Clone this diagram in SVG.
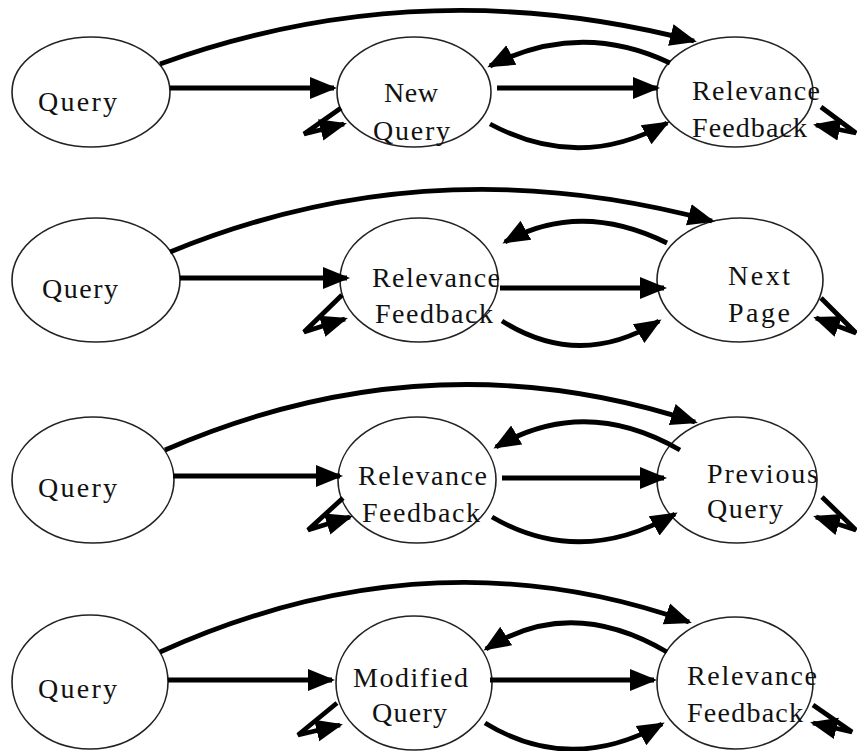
<svg xmlns="http://www.w3.org/2000/svg" width="857" height="751" viewBox="0 0 857 751">
<defs>
<style>
.n{fill:#fff;stroke:#222;stroke-width:1.6}
.t{font-family:"Liberation Serif","DejaVu Serif","Times New Roman",serif;font-size:28px;fill:#111}
.c{fill:none;stroke:#000;stroke-width:4.8;stroke-linejoin:miter;marker-end:url(#ah)}
</style>
<marker id="ah" markerUnits="userSpaceOnUse" markerWidth="28" markerHeight="24" refX="24" refY="11" orient="auto" viewBox="0 0 28 22">
<path d="M0,0 L27,11 L0,22 Z" fill="#000"/>
</marker>
</defs>
<rect width="857" height="751" fill="#fff"/>

<g id="r1-query"><ellipse class="n" cx="91" cy="92" rx="79" ry="55"/><text class="t" x="38" y="111" textLength="79" lengthAdjust="spacing">Query</text></g>
<g id="r1-newquery"><ellipse class="n" cx="414" cy="92" rx="77" ry="55"/><text class="t" x="384" y="102" textLength="54" lengthAdjust="spacing">New</text><text class="t" x="373" y="140" textLength="77" lengthAdjust="spacing">Query</text></g>
<g id="r1-relevance"><ellipse class="n" cx="735" cy="92" rx="78" ry="55"/><text class="t" x="692" y="100" textLength="128" lengthAdjust="spacing">Relevance</text><text class="t" x="692" y="137" textLength="115" lengthAdjust="spacing">Feedback</text></g>

<g id="r2-query"><ellipse class="n" cx="96" cy="280" rx="84" ry="62"/><text class="t" x="42" y="298" textLength="76" lengthAdjust="spacing">Query</text></g>
<g id="r2-relevance"><ellipse class="n" cx="419" cy="280" rx="79" ry="62"/><text class="t" x="372" y="287" textLength="128" lengthAdjust="spacing">Relevance</text><text class="t" x="375" y="323" textLength="118" lengthAdjust="spacing">Feedback</text></g>
<g id="r2-nextpage"><ellipse class="n" cx="740" cy="280" rx="83" ry="62"/><text class="t" x="728" y="285" textLength="62" lengthAdjust="spacing">Next</text><text class="t" x="728" y="322" textLength="62" lengthAdjust="spacing">Page</text></g>

<g id="r3-query"><ellipse class="n" cx="93" cy="480" rx="81" ry="63"/><text class="t" x="38" y="497" textLength="79" lengthAdjust="spacing">Query</text></g>
<g id="r3-relevance"><ellipse class="n" cx="417" cy="480" rx="79" ry="63"/><text class="t" x="358" y="485" textLength="129" lengthAdjust="spacing">Relevance</text><text class="t" x="362" y="522" textLength="118" lengthAdjust="spacing">Feedback</text></g>
<g id="r3-previous"><ellipse class="n" cx="737" cy="480" rx="80" ry="63"/><text class="t" x="707" y="483" textLength="111" lengthAdjust="spacing">Previous</text><text class="t" x="707" y="518" textLength="76" lengthAdjust="spacing">Query</text></g>

<g id="r4-query"><ellipse class="n" cx="90" cy="682" rx="78" ry="67"/><text class="t" x="38" y="698" textLength="79" lengthAdjust="spacing">Query</text></g>
<g id="r4-modified"><ellipse class="n" cx="414" cy="683" rx="78" ry="67"/><text class="t" x="353" y="687" textLength="115" lengthAdjust="spacing">Modified</text><text class="t" x="372" y="722" textLength="75" lengthAdjust="spacing">Query</text></g>
<g id="r4-relevance"><ellipse class="n" cx="735" cy="683" rx="78" ry="66"/><text class="t" x="687" y="685" textLength="130" lengthAdjust="spacing">Relevance</text><text class="t" x="687" y="722" textLength="116" lengthAdjust="spacing">Feedback</text></g>

<g id="connectors">
<path class="c" d="M160,64 Q420,-30 694,41"/>
<path class="c" d="M170,88 L334,88"/>
<path class="c" d="M670,63 Q580,20 490,66"/>
<path class="c" d="M497,88 L657,88"/>
<path class="c" d="M490,124 Q580,172 667,123"/>
<path class="c" d="M341,108 L304,134 L344,124"/>
<path class="c" d="M821,107 L856,133 L816,125"/>
<path class="c" d="M170,252 Q430,145 712,221"/>
<path class="c" d="M180,278 L347,278"/>
<path class="c" d="M667,243 Q580,200 505,242"/>
<path class="c" d="M500,288 L664,288"/>
<path class="c" d="M502,321 Q580,370 659,321"/>
<path class="c" d="M342,295 L304,332 L345,319"/>
<path class="c" d="M821,298 L856,333 L816,318"/>
<path class="c" d="M165,450 Q430,335 695,422"/>
<path class="c" d="M173,476 L340,476"/>
<path class="c" d="M680,450 Q585,395 496,447"/>
<path class="c" d="M502,478 L664,478"/>
<path class="c" d="M492,517 Q580,568 675,514"/>
<path class="c" d="M343,498 L308,530 L350,517"/>
<path class="c" d="M822,497 L856,530 L816,517"/>
<path class="c" d="M160,652 Q430,530 689,622"/>
<path class="c" d="M168,680 L332,680"/>
<path class="c" d="M667,652 Q570,595 486,649"/>
<path class="c" d="M490,680 L654,680"/>
<path class="c" d="M485,723 Q570,775 662,724"/>
<path class="c" d="M337,703 L298,735 L340,725"/>
<path class="c" d="M813,705 L852,732 L813,723"/>
</g>
</svg>
